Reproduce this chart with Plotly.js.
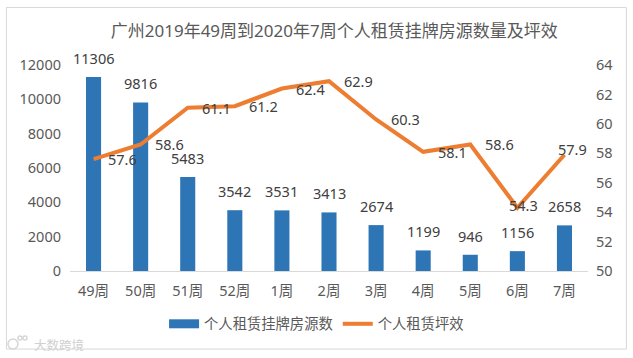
<!DOCTYPE html>
<html><head><meta charset="utf-8">
<script src="https://cdn.plot.ly/plotly-3.0.1.min.js"></script>
<style>html,body{margin:0;padding:0;background:#fff}
#c{position:absolute;left:0;top:0;width:633px;height:358px}</style></head>
<body><div id="c"></div>
<script>
const categories=["49周","50周","51周","52周","1周","2周","3周","4周","5周","6周","7周"];
const listings=[11306,9816,5483,3542,3531,3413,2674,1199,946,1156,2658];
const efficiency=[57.6,58.6,61.1,61.2,62.4,62.9,60.3,58.1,58.6,54.3,57.9];
const leftTicks=[0,2000,4000,6000,8000,10000,12000];
const rightTicks=[50,52,54,56,58,60,62,64];
const font="'Noto Sans','Noto Sans CJK SC',sans-serif";
const lineShift=categories.map((c,i)=>i===9?[6,3]:i===10?[8,6]:[29,0]);
const barAnn=categories.map((c,i)=>({x:c,y:listings[i],xref:'x',yref:'y',text:String(listings[i]),showarrow:false,yshift:19,font:{family:font,size:14.5,color:'#404040'}}));
const lineAnn=categories.map((c,i)=>({x:c,y:efficiency[i],xref:'x',yref:'y2',text:efficiency[i].toFixed(1),showarrow:false,xshift:lineShift[i][0],yshift:lineShift[i][1],font:{family:font,size:14.5,color:'#404040'}}));
const axisFont={family:font,size:14.5,color:'#595959'};
const px=v=>(v-70)/517.6, py=v=>(271-v)/206;
const mark=(cx,cy,r)=>({type:'circle',xref:'paper',yref:'paper',x0:px(cx-r),x1:px(cx+r),y0:py(cy+r),y1:py(cy-r),line:{color:'#D6D6D6',width:1.5},fillcolor:'rgba(0,0,0,0)'});
Plotly.newPlot('c',[
{type:'bar',x:categories,y:listings,name:'个人租赁挂牌房源数',marker:{color:'#2E75B6'},width:0.32,showlegend:false},
{type:'scatter',mode:'lines',x:[categories[0]],y:[null],name:'个人租赁挂牌房源数',line:{color:'#2E75B6',width:9}},
{type:'scatter',mode:'lines',x:categories,y:efficiency,name:'个人租赁坪效',yaxis:'y2',line:{color:'#ED7D31',width:4}}
],{
width:633,height:358,margin:{l:70,r:45,t:65,b:87},
paper_bgcolor:'#fff',plot_bgcolor:'rgba(0,0,0,0)',
title:{text:'广州2019年49周到2020年7周个人租赁挂牌房源数量及坪效',font:{family:font,size:17,color:'#595959'},x:0.528,xanchor:'center',y:0.913,yanchor:'middle'},
xaxis:{type:'category',categories:categories,range:[-0.5,10.5],showline:true,linecolor:'#D9D9D9',linewidth:1,ticks:'',tickfont:axisFont,ticklabelstandoff:7,showgrid:false,zeroline:false},
yaxis:{range:[0,12000],tickvals:leftTicks,tickformat:'d',ticks:'',tickfont:axisFont,ticklabelstandoff:8,showgrid:false,zeroline:false,showline:false},
yaxis2:{range:[50,64],tickvals:rightTicks,overlaying:'y',side:'right',ticks:'',tickfont:axisFont,ticklabelstandoff:7,showgrid:false,zeroline:false,showline:false},
showlegend:true,
legend:{orientation:'h',x:px(164),xref:'paper',xanchor:'left',y:py(324),yanchor:'middle',itemwidth:30,font:{family:font,size:14.3,color:'#595959'},bgcolor:'rgba(0,0,0,0)'},
bargap:0.68,
shapes:[{type:'rect',xref:'paper',yref:'paper',x0:-0.1227,x1:1.0742,y0:-0.379,y1:1.279,line:{color:'#D9D9D9',width:1},fillcolor:'rgba(0,0,0,0)'},mark(13,344,5),mark(20,338,2),mark(25,338,2)],
annotations:barAnn.concat(lineAnn,[{xref:'paper',yref:'paper',x:px(32),y:py(345),xanchor:'left',yanchor:'middle',text:'大数跨境',showarrow:false,font:{family:font,size:12.5,color:'#D0D0D0'}}])
},{displayModeBar:false,responsive:false});
</script></body></html>
